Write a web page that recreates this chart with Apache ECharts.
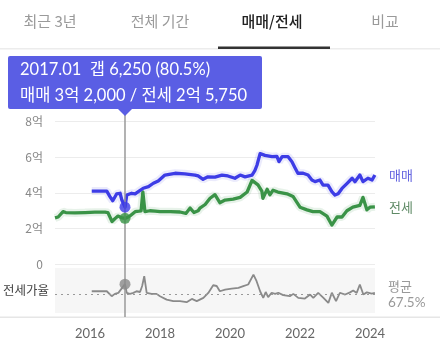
<!DOCTYPE html>
<html><head><meta charset="utf-8">
<script src="https://cdn.jsdelivr.net/npm/echarts@6/dist/echarts.min.js"></script>
<style>html,body{margin:0;padding:0;background:#fff}#c{width:440px;height:356px}</style>
</head><body><div id="c"></div>
<script>
// ---- data (years as decimal, values in 억) ----
const saleYears = [2016.05,2016.48,2016.57,2016.65,2016.76,2016.86,2016.91,2017.00,2017.05,2017.19,2017.29,2017.38,2017.52,2017.67,2017.81,2017.95,2018.00,2018.14,2018.43,2018.71,2019.00,2019.09,2019.23,2019.37,2019.57,2019.77,2019.94,2020.14,2020.29,2020.43,2020.63,2020.71,2020.77,2020.86,2021.00,2021.20,2021.34,2021.40,2021.49,2021.66,2021.77,2021.86,2021.94,2022.09,2022.23,2022.34,2022.43,2022.57,2022.66,2022.80,2022.91,2023.00,2023.09,2023.20,2023.34,2023.49,2023.57,2023.71,2023.80,2023.94,2024.06,2024.14];
const saleValues = [4.1,4.1,3.79,3.56,3.94,3.98,3.6,3.2,3.88,3.98,3.95,4.07,4.26,4.35,4.54,4.67,4.57,5.0,5.1,5.07,5.0,4.95,4.76,4.9,4.88,5.0,4.95,4.82,5.0,4.9,5.0,5.25,5.55,6.2,6.1,6.03,6.05,5.75,6.03,6.03,5.75,5.4,5.1,5.1,5.0,4.72,4.63,4.72,4.44,4.44,4.07,3.88,3.95,4.25,4.52,4.82,4.63,5.0,4.63,4.82,4.72,5.0];
const jeonseYears = [2015.00,2015.09,2015.23,2015.31,2015.57,2015.86,2016.14,2016.43,2016.51,2016.57,2016.63,2016.71,2016.80,2016.89,2017.00,2017.06,2017.14,2017.29,2017.40,2017.46,2017.51,2017.57,2017.71,2017.86,2018.00,2018.29,2018.57,2018.74,2018.86,2018.97,2019.09,2019.14,2019.29,2019.43,2019.57,2019.71,2019.86,2020.09,2020.29,2020.49,2020.63,2020.80,2020.91,2020.94,2021.06,2021.14,2021.23,2021.37,2021.63,2021.80,2022.00,2022.20,2022.37,2022.57,2022.77,2022.91,2023.06,2023.20,2023.34,2023.51,2023.71,2023.80,2023.91,2024.00,2024.14];
const jeonseValues = [2.6,2.65,2.95,2.9,2.88,2.9,2.92,2.92,2.9,2.65,2.4,2.55,2.7,2.62,2.575,2.62,2.7,2.95,2.98,3.0,4.05,2.95,3.0,2.98,2.95,2.95,2.93,2.85,3.15,2.9,3.0,3.15,3.35,3.7,3.9,3.45,3.6,3.65,3.75,4.05,4.7,4.45,4.1,3.7,4.2,3.9,4.15,4.05,3.95,3.8,3.2,3.05,2.95,2.95,2.7,2.2,2.65,2.65,3.0,3.2,3.3,3.75,3.05,3.2,3.22];
const ratioYears = [2016.05,2016.48,2016.62,2016.71,2016.81,2017.00,2017.05,2017.14,2017.24,2017.33,2017.43,2017.49,2017.55,2017.62,2017.76,2017.90,2018.00,2018.19,2018.38,2018.57,2018.76,2018.91,2019.05,2019.24,2019.38,2019.52,2019.62,2019.71,2019.86,2020.05,2020.24,2020.38,2020.52,2020.67,2020.76,2020.86,2020.95,2021.02,2021.09,2021.19,2021.29,2021.38,2021.52,2021.71,2021.81,2021.95,2022.14,2022.29,2022.38,2022.52,2022.67,2022.81,2022.91,2023.03,2023.14,2023.29,2023.43,2023.52,2023.62,2023.71,2023.81,2023.91,2024.05,2024.14];
const ratioValues = [71,71,64.4,67.5,68.8,80.5,68.8,67.5,68.8,71,70,78,91,68.8,67.5,67.5,64.4,59.9,57.8,57.8,56.4,60.8,57.8,62.2,68.8,79,78,71,73.2,74.6,75.5,77.8,80,93.2,84.4,71,62.2,70,63.1,69,67.5,69,65.8,64.4,67.5,62.2,61.3,66.6,62.2,68.8,62.2,55.5,69,57.8,69,66.6,69.5,71.9,68.8,80,66.6,69.5,67.8,68.8];
const ratioAverage = 67.5;
const yTicks = [0, 2, 4, 6, 8];
const xTickYears = [2016, 2018, 2020, 2022, 2024];
const tabs = ['최근 3년', '전체 기간', '매매/전세', '비교'];
const cursor = {label: '2017.01', year: 2017.00, sale: 3.2, jeonse: 2.575, ratio: 80.5,
  line1: '2017.01  갭 6,250 (80.5%)', line2: '매매 3억 2,000 / 전세 2억 5,750'};

const pair = (xs, ys) => xs.map((x, i) => [x, ys[i]]);
const BLUE = '#3d3ce6', GREEN = '#3a9347', GRAY = '#8a8a8a';
const FONT = 'Lato, "Noto Sans CJK KR", sans-serif';
const KFONT = '"Noto Sans CJK KR", sans-serif';

const chart = echarts.init(document.getElementById('c'), null, {renderer: 'canvas'});
const xMin = 2015, xMax = 2024.143;
const xCommon = {type: 'value', min: xMin, max: xMax, interval: 1};
chart.setOption({
  animation: false,
  grid: [
    {left: 55, right: 65, top: 121.5, height: 142.8},
    {left: 55, right: 65, top: 268, height: 45, show: true, backgroundColor: '#f6f6f6', borderWidth: 0}
  ],
  xAxis: [
    Object.assign({gridIndex: 0, show: false}, xCommon),
    Object.assign({gridIndex: 1, axisLine: {show: false}, axisTick: {show: false}, splitLine: {show: false},
      axisLabel: {margin: 14, color: '#666', fontSize: 13, fontFamily: FONT, showMaxLabel: false,
        formatter: v => xTickYears.includes(v) ? String(v) : ''}}, xCommon)
  ],
  yAxis: [
    {gridIndex: 0, type: 'value', min: yTicks[0], max: yTicks[yTicks.length - 1], interval: 2,
      axisLine: {show: false}, axisTick: {show: false},
      splitLine: {lineStyle: {color: '#ececec', width: 1}},
      axisLabel: {margin: 12, color: '#888', fontSize: 12, fontFamily: KFONT, formatter: v => v === 0 ? '0' : v + '억'}},
    {gridIndex: 1, type: 'value', min: 42, max: 102, show: false}
  ],
  series: [
    {type: 'line', xAxisIndex: 0, yAxisIndex: 0, data: pair(jeonseYears, jeonseValues), symbol: 'none',
      lineStyle: {color: GREEN, width: 8, opacity: 0.12}, silent: true, z: 1},
    {type: 'line', xAxisIndex: 0, yAxisIndex: 0, data: pair(saleYears, saleValues), symbol: 'none',
      lineStyle: {color: BLUE, width: 8, opacity: 0.1}, silent: true, z: 1},
    {type: 'line', xAxisIndex: 0, yAxisIndex: 0, name: '전세', data: pair(jeonseYears, jeonseValues), symbol: 'none',
      lineStyle: {color: GREEN, width: 3.3, join: 'round'}, z: 3},
    {type: 'line', xAxisIndex: 0, yAxisIndex: 0, name: '매매', data: pair(saleYears, saleValues), symbol: 'none',
      lineStyle: {color: BLUE, width: 3.3, join: 'round'}, z: 3},
    {type: 'line', xAxisIndex: 1, yAxisIndex: 1, name: '전세가율', data: pair(ratioYears, ratioValues), symbol: 'none',
      lineStyle: {color: GRAY, width: 1.8}, z: 3,
      markLine: {silent: true, symbol: 'none', label: {show: false},
        lineStyle: {color: '#999', type: [2, 4], width: 1.2}, data: [{yAxis: ratioAverage}]}},
    {type: 'scatter', xAxisIndex: 0, yAxisIndex: 0, data: [[cursor.year, cursor.sale]], symbolSize: 11,
      itemStyle: {color: BLUE}, z: 10},
    {type: 'scatter', xAxisIndex: 0, yAxisIndex: 0, data: [[cursor.year, cursor.jeonse]], symbolSize: 11,
      itemStyle: {color: GREEN}, z: 10},
    {type: 'scatter', xAxisIndex: 1, yAxisIndex: 1, data: [[cursor.year, cursor.ratio]], symbolSize: 11,
      itemStyle: {color: GRAY}, z: 10}
  ]
});

const cx = chart.convertToPixel({xAxisIndex: 0}, cursor.year);
const saleEndY = chart.convertToPixel({yAxisIndex: 0}, saleValues[saleValues.length - 1]);
const jeonseEndY = chart.convertToPixel({yAxisIndex: 0}, jeonseValues[jeonseValues.length - 1]);
const avgY = chart.convertToPixel({yAxisIndex: 1}, ratioAverage);
const tabX = [50, 160, 272, 385];
const g = [];
tabs.forEach((t, i) => g.push({type: 'text', x: tabX[i], y: 21, style: {text: t, fill: i === 2 ? '#222' : '#9a9a9a',
  font: (i === 2 ? '500 ' : '') + '15px ' + KFONT, textAlign: 'center', textVerticalAlign: 'middle'}}));
g.push({type: 'rect', shape: {x: 0, y: 48, width: 440, height: 1.5}, style: {fill: '#ececec'}});
g.push({type: 'rect', shape: {x: 218, y: 46.5, width: 112, height: 2.5}, style: {fill: '#333'}});
g.push({type: 'rect', shape: {x: 0, y: 316.5, width: 440, height: 1.5}, style: {fill: '#e6e6e6'}});
g.push({type: 'line', shape: {x1: cx, y1: 110, x2: cx, y2: 317}, style: {stroke: '#999', lineWidth: 1.5}, z: 5});
g.push({type: 'rect', shape: {x: 8, y: 56, width: 254, height: 53, r: 2}, style: {fill: '#5a5ee4'}, z: 20});
g.push({type: 'polygon', shape: {points: [[cx - 8, 108], [cx + 8, 108], [cx, 116]]}, style: {fill: '#5a5ee4'}, z: 20});
g.push({type: 'text', x: 20, y: 70, style: {text: cursor.line1, fill: '#fff', font: '16.5px ' + FONT, textVerticalAlign: 'middle'}, z: 21});
g.push({type: 'text', x: 20, y: 96, style: {text: cursor.line2, fill: '#fff', font: '16.5px ' + FONT, textVerticalAlign: 'middle'}, z: 21});
g.push({type: 'text', x: 389, y: saleEndY, style: {text: '매매', fill: '#6465e0', font: '13px ' + KFONT, textVerticalAlign: 'middle'}});
g.push({type: 'text', x: 389, y: jeonseEndY, style: {text: '전세', fill: '#5f8a66', font: '13px ' + KFONT, textVerticalAlign: 'middle'}});
g.push({type: 'text', x: 3, y: avgY - 4, style: {text: '전세가율', fill: '#444', font: '12.5px ' + KFONT, textVerticalAlign: 'middle'}});
g.push({type: 'text', x: 388, y: 286, style: {text: '평균', fill: '#999', font: '13px ' + KFONT, textVerticalAlign: 'middle'}});
g.push({type: 'text', x: 388, y: 303, style: {text: ratioAverage + '%', fill: '#999', font: '13.5px ' + FONT, textVerticalAlign: 'middle'}});
chart.setOption({graphic: g});
</script></body></html>
